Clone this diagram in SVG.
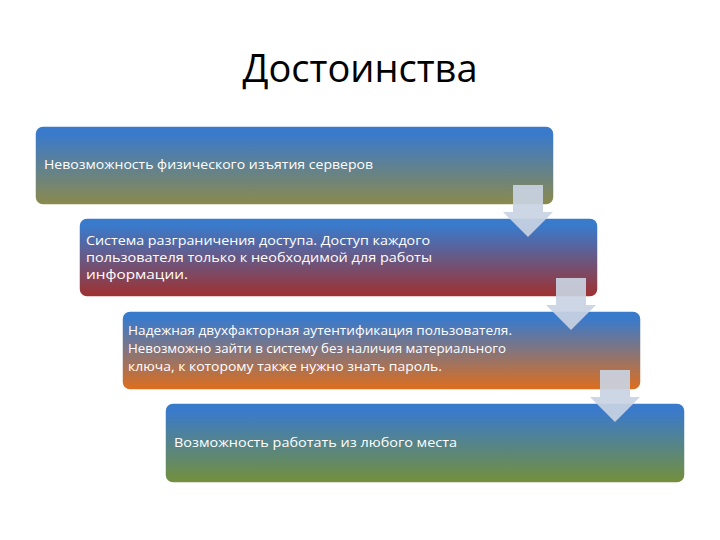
<svg xmlns="http://www.w3.org/2000/svg" width="720" height="540" viewBox="0 0 720 540">
<style>
.t{font-family:"Open Sans","Liberation Sans",sans-serif;font-size:13px;fill:#ffffff}
.title{font-family:"Open Sans","Liberation Sans",sans-serif;font-size:38px;fill:#000000}
.box{stroke:#ffffff;stroke-width:1.5}
.arr{fill:#c9d2e2;fill-opacity:0.92}
</style>
<defs>
<linearGradient id="g1" x1="0" y1="0" x2="0" y2="1"><stop offset="0.1" stop-color="#3a7acb"/><stop offset="1" stop-color="#8c8a4c"/></linearGradient>
<linearGradient id="g2" x1="0" y1="0" x2="0" y2="1"><stop offset="0.1" stop-color="#3a7acb"/><stop offset="1" stop-color="#a0302e"/></linearGradient>
<linearGradient id="g3" x1="0" y1="0" x2="0" y2="1"><stop offset="0.1" stop-color="#3a7acb"/><stop offset="1" stop-color="#df6e1c"/></linearGradient>
<linearGradient id="g4" x1="0" y1="0" x2="0" y2="1"><stop offset="0.1" stop-color="#3a7acb"/><stop offset="1" stop-color="#75903a"/></linearGradient>
</defs>
<rect width="720" height="540" fill="#ffffff"/>
<text class="title" x="360" y="82" text-anchor="middle">Достоинства</text>
<g id="node1"><rect class="box" x="35" y="126" width="519" height="79" rx="8" fill="url(#g1)"/>
<text class="t" x="44" y="169" textLength="329" lengthAdjust="spacingAndGlyphs">Невозможность физического изъятия серверов</text></g>
<g id="node2"><rect class="box" x="79" y="218" width="519" height="79" rx="8" fill="url(#g2)"/>
<text class="t" x="86" y="245" textLength="344" lengthAdjust="spacingAndGlyphs">Система разграничения доступа. Доступ каждого</text>
<text class="t" x="86" y="262" textLength="346" lengthAdjust="spacingAndGlyphs">пользователя только к необходимой для работы</text>
<text class="t" x="86" y="279" textLength="102" lengthAdjust="spacingAndGlyphs">информации.</text></g>
<g id="node3"><rect class="box" x="122" y="311" width="519" height="79" rx="8" fill="url(#g3)"/>
<text class="t" x="128" y="335" textLength="384" lengthAdjust="spacingAndGlyphs">Надежная двухфакторная аутентификация пользователя.</text>
<text class="t" x="128" y="353" textLength="378" lengthAdjust="spacingAndGlyphs">Невозможно зайти в систему без наличия материального</text>
<text class="t" x="128" y="371" textLength="314" lengthAdjust="spacingAndGlyphs">ключа, к которому также нужно знать пароль.</text></g>
<g id="node4"><rect class="box" x="165" y="403" width="520" height="80" rx="8" fill="url(#g4)"/>
<text class="t" x="174" y="447" textLength="283" lengthAdjust="spacingAndGlyphs">Возможность работать из любого места</text></g>
<g id="connectors">
<path class="arr" d="M513,185 H543 V212 H553 L528,237 L503,212 H513 Z"/>
<path class="arr" d="M556,278 H586 V305 H596 L571,330 L546,305 H556 Z"/>
<path class="arr" d="M600,370 H630 V397 H640 L615,422 L590,397 H600 Z"/>
</g>
</svg>
